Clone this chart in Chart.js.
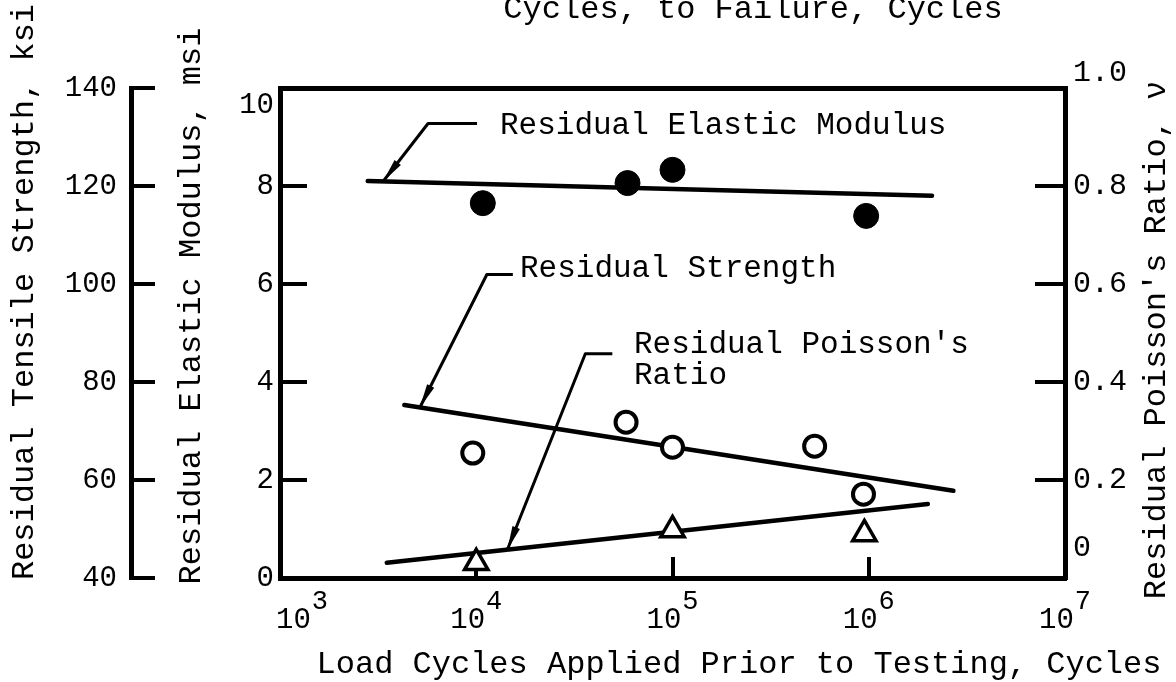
<!DOCTYPE html>
<html>
<head>
<meta charset="utf-8">
<title>Residual properties vs load cycles</title>
<script src="https://cdn.jsdelivr.net/npm/chart.js@4.4.1/dist/chart.umd.min.js"></script>
<style>
  html, body { margin: 0; padding: 0; background: #fff; }
  #wrap { width: 1176px; height: 682px; }
</style>
</head>
<body>
<div id="wrap"><canvas id="residualChart"></canvas></div>
<script>
// Test points (load cycles applied before the residual test)
const modulusCycles = [1.08e4, 5.9e4, 1.0e5, 9.7e5];
const modulusMsi = [7.65, 8.06, 8.33, 7.39];
const strengthCycles = [9.6e3, 5.8e4, 1.0e5, 5.3e5, 9.4e5];
const strengthKsi = [65.5, 71.8, 66.7, 66.9, 57.1];
const poissonCycles = [1.0e4, 1.0e5, 9.5e5];
const poissonRatio = [0.031, 0.098, 0.09];

// Fitted trend lines (end points)
const modulusFitCycles = [2.8e3, 2.1e6];
const modulusFitMsi = [8.10, 7.80];
const strengthFitCycles = [4.3e3, 2.7e6];
const strengthFitKsi = [75.3, 57.8];
const poissonFitCycles = [3.5e3, 2.0e6];
const poissonFitRatio = [0.031, 0.151];

// Axis ticks
const cycleTicks = [1e3, 1e4, 1e5, 1e6, 1e7];
const modulusTicks = [0, 2, 4, 6, 8, 10];
const strengthTicks = [40, 60, 80, 100, 120, 140];
const poissonTicks = [0, 0.2, 0.4, 0.6, 0.8, 1.0];
const poissonTickLabels = ['0', '0.2', '0.4', '0.6', '0.8', '1.0'];

const FONT = '"Liberation Mono", "Courier New", monospace';

function pairs(xs, ys) {
    return xs.map((x, i) => ({ x: x, y: ys[i] }));
}

// value of a fitted line (straight on the log x axis) at a given cycle count
function onFit(xs, ys, x) {
    const t = (Math.log10(x) - Math.log10(xs[0])) / (Math.log10(xs[1]) - Math.log10(xs[0]));
    return ys[0] + t * (ys[1] - ys[0]);
}

function setTicks(values) {
    return scale => { scale.ticks = values.map(v => ({ value: v })); };
}

function drawLeader(ctx, tip, elbow, end) {
    ctx.beginPath();
    ctx.moveTo(end.x, end.y);
    ctx.lineTo(elbow.x, elbow.y);
    ctx.lineTo(tip.x, tip.y);
    ctx.stroke();
    // slim arrow head at the tip
    const a = Math.atan2(tip.y - elbow.y, tip.x - elbow.x);
    const len = 24, half = 4;
    const bx = tip.x - len * Math.cos(a), by = tip.y - len * Math.sin(a);
    ctx.beginPath();
    ctx.moveTo(tip.x, tip.y);
    ctx.lineTo(bx + half * Math.sin(a), by - half * Math.cos(a));
    ctx.lineTo(bx - half * Math.sin(a), by + half * Math.cos(a));
    ctx.closePath();
    ctx.fill();
}

function rotatedText(ctx, text, x, y) {
    ctx.save();
    ctx.translate(x, y);
    ctx.rotate(-Math.PI / 2);
    ctx.textAlign = 'center';
    ctx.fillText(text, 0, 0);
    ctx.restore();
}

// Titles, x tick labels with exponents, and the labelled leaders
const annotations = {
    id: 'annotations',
    afterDraw(chart) {
        const { ctx, scales, chartArea } = chart;
        const x = scales.x;
        ctx.save();
        ctx.fillStyle = '#000';
        ctx.strokeStyle = '#000';
        ctx.textBaseline = 'alphabetic';

        // x tick labels: 10 with a raised exponent
        cycleTicks.forEach(v => {
            const exp = String(Math.round(Math.log10(v)));
            ctx.font = '29px ' + FONT;
            const wBase = ctx.measureText('10').width;
            ctx.font = '27px ' + FONT;
            const wExp = ctx.measureText(exp).width;
            let left = x.getPixelForValue(v) - (wBase + 1 + wExp) / 2;
            left = Math.max(left, chartArea.left - 4);
            ctx.textAlign = 'left';
            ctx.font = '29px ' + FONT;
            ctx.fillText('10', left, 628);
            ctx.font = '27px ' + FONT;
            ctx.fillText(exp, left + wBase + 1, 609);
        });

        // axis titles
        ctx.font = '32px ' + FONT;
        ctx.textAlign = 'center';
        ctx.fillText('Load Cycles Applied Prior to Testing, Cycles', 739, 673);
        ctx.fillText('Cycles, to Failure, Cycles', 753, 18);
        rotatedText(ctx, 'Residual Tensile Strength, ksi', 33, 292);
        rotatedText(ctx, 'Residual Elastic Modulus, msi', 200, 306);
        rotatedText(ctx, 'Residual Poisson\'s Ratio, \u03bd', 1165, 340);

        // leaders from the labels to the fitted lines
        ctx.lineWidth = 3;
        ctx.lineJoin = 'round';
        const leaders = [
            { cycles: 3.35e3, xs: modulusFitCycles, ys: modulusFitMsi, axis: 'y', elbow: [45, -58], end: [94, -58] },
            { cycles: 5.16e3, xs: strengthFitCycles, ys: strengthFitKsi, axis: 'yS', elbow: [67, -133], end: [93, -133] },
            { cycles: 1.44e4, xs: poissonFitCycles, ys: poissonFitRatio, axis: 'y2', elbow: [78, -196], end: [105, -196] }
        ];
        leaders.forEach(l => {
            const tip = {
                x: x.getPixelForValue(l.cycles),
                y: scales[l.axis].getPixelForValue(onFit(l.xs, l.ys, l.cycles))
            };
            drawLeader(ctx, tip,
                { x: tip.x + l.elbow[0], y: tip.y + l.elbow[1] },
                { x: tip.x + l.end[0], y: tip.y + l.end[1] });
        });

        ctx.font = '31px ' + FONT;
        ctx.textAlign = 'left';
        ctx.fillText('Residual Elastic Modulus', 500, 134);
        ctx.fillText('Residual Strength', 520, 277);
        ctx.fillText('Residual Poisson\'s', 634, 353);
        ctx.fillText('Ratio', 634, 384);
        ctx.restore();
    }
};

// tick marks that point into the plot, no grid lines
const inwardTicks = length => ({
    grid: { display: true, drawOnChartArea: false, drawTicks: true, tickLength: -length, lineWidth: 4, color: '#000' },
    border: { display: true, width: 5, color: '#000' }
});

const ctx = document.getElementById('residualChart').getContext('2d');
const residualChart = new Chart(ctx, {
    type: 'scatter',
    data: {
        datasets: [
            {
                label: 'Residual Elastic Modulus',
                data: pairs(modulusCycles, modulusMsi),
                yAxisID: 'y',
                pointStyle: 'circle',
                pointRadius: 12.5,
                pointBackgroundColor: '#000',
                pointBorderColor: '#000',
                pointBorderWidth: 1
            },
            {
                label: 'Residual Strength',
                data: pairs(strengthCycles, strengthKsi),
                yAxisID: 'yS',
                pointStyle: 'circle',
                pointRadius: 10.5,
                pointBackgroundColor: '#fff',
                pointBorderColor: '#000',
                pointBorderWidth: 4
            },
            {
                label: 'Residual Poisson\'s Ratio',
                data: pairs(poissonCycles, poissonRatio),
                yAxisID: 'y2',
                pointStyle: 'triangle',
                pointRadius: 13.5,
                pointBackgroundColor: '#fff',
                pointBorderColor: '#000',
                pointBorderWidth: 3.5
            },
            {
                label: 'Modulus fit',
                data: pairs(modulusFitCycles, modulusFitMsi),
                yAxisID: 'y',
                showLine: true,
                pointRadius: 0,
                borderColor: '#000',
                borderWidth: 4.5,
                borderCapStyle: 'round'
            },
            {
                label: 'Strength fit',
                data: pairs(strengthFitCycles, strengthFitKsi),
                yAxisID: 'yS',
                showLine: true,
                pointRadius: 0,
                borderColor: '#000',
                borderWidth: 4.5,
                borderCapStyle: 'round'
            },
            {
                label: 'Poisson fit',
                data: pairs(poissonFitCycles, poissonFitRatio),
                yAxisID: 'y2',
                showLine: true,
                pointRadius: 0,
                borderColor: '#000',
                borderWidth: 4.5,
                borderCapStyle: 'round'
            }
        ]
    },
    options: {
        responsive: true,
        maintainAspectRatio: false,
        animation: false,
        layout: { padding: 0 },
        plugins: {
            legend: { display: false },
            tooltip: { enabled: false }
        },
        scales: {
            x: {
                type: 'logarithmic',
                position: 'bottom',
                min: 1e3,
                max: 1e7,
                afterBuildTicks: setTicks(cycleTicks),
                afterFit: s => { s.height = 104; },
                ticks: { display: false },
                ...inwardTicks(21)
            },
            xTop: {
                type: 'linear',
                position: 'top',
                min: 0,
                max: 1,
                afterFit: s => { s.height = 88; },
                ticks: { display: false },
                grid: { display: false },
                border: { display: true, width: 5, color: '#000' }
            },
            y: {
                type: 'linear',
                position: 'left',
                weight: 0,
                min: 0,
                max: 10,
                afterBuildTicks: setTicks(modulusTicks),
                afterFit: s => { s.width = 149; },
                ticks: {
                    color: '#000',
                    padding: 33,
                    autoSkip: false,
                    font: { family: FONT, size: 29 },
                    callback: (v, i) => i === modulusTicks.length - 1 ? ['', String(v)] : String(v)
                },
                ...inwardTicks(27)
            },
            yS: {
                type: 'linear',
                position: 'left',
                weight: 1,
                min: 40,
                max: 140,
                afterBuildTicks: setTicks(strengthTicks),
                afterFit: s => { s.width = 131; },
                ticks: {
                    color: '#000',
                    padding: 38,
                    autoSkip: false,
                    font: { family: FONT, size: 29 }
                },
                ...inwardTicks(24)
            },
            y2: {
                type: 'linear',
                position: 'right',
                min: 0,
                max: 1,
                afterBuildTicks: setTicks(poissonTicks),
                afterFit: s => { s.width = 111; },
                ticks: {
                    color: '#000',
                    padding: 38,
                    autoSkip: false,
                    font: { family: FONT, size: 30, lineHeight: 1 },
                    callback: (v, i) => {
                        const t = poissonTickLabels[i];
                        if (i === 0) return [t, '', ''];
                        if (i === poissonTicks.length - 1) return [t, ''];
                        return t;
                    }
                },
                ...inwardTicks(30)
            }
        }
    },
    plugins: [annotations]
});
</script>
</body>
</html>
